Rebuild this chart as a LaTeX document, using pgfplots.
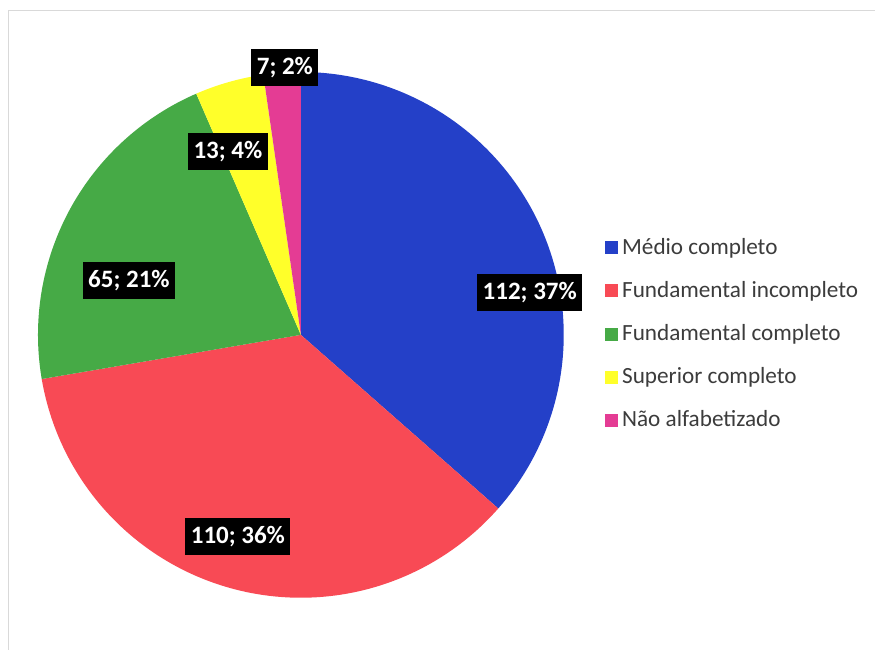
\documentclass[border=0pt]{standalone}
\usepackage{fontspec}
\setmainfont{Carlito}
\usepackage{pgfplots}
\pgfplotsset{compat=1.18}

\definecolor{cMedio}{HTML}{2440C8}
\definecolor{cFundInc}{HTML}{F84A55}
\definecolor{cFundComp}{HTML}{46AA46}
\definecolor{cSup}{HTML}{FFFF2A}
\definecolor{cNao}{HTML}{E43C94}
\definecolor{legtext}{HTML}{3C3C3C}

% pie centre and radius, in pixels of the 875x650 frame
\def\cx{301}
\def\cy{315}
\def\rr{263}
\def\tot{(112+110+65+13+7)}

\tikzset{lbl/.style={fill=black, text=white,
        font=\fontsize{12.5}{15}\selectfont\bfseries,
        inner xsep=2.75pt, inner ysep=3.5pt, text height=9pt, text depth=2.5pt}}

\begin{document}
\begin{tikzpicture}
\begin{axis}[
    scale only axis,
    width=437.5pt, height=325pt,
    xmin=0, xmax=875, ymin=0, ymax=650,
    hide axis,
    clip=false,
    samples=120,
    legend cell align=left,
    legend style={
        at={(axis cs:605,416)}, anchor=north west,
        draw=none, fill=none,
        font=\fontsize{11.6}{14}\selectfont\color{legtext},
        row sep=8pt, inner sep=0pt,
        /tikz/every even column/.append style={column sep=1.5pt},
    },
    legend image code/.code={\fill[#1] (0pt,-3.25pt) rectangle (6.5pt,3.25pt);},
]
% background and frame
\addplot[draw=none, fill=white, forget plot] coordinates {(0,0) (875,0) (875,650) (0,650)};
\addplot[gray!30, forget plot] coordinates {(8,0) (8,640) (875,640)};

% wedges, clockwise from 12 o'clock
\addplot[fill=cMedio, draw=none, domain={0}:{360*(112)/\tot}]
    ({\cx+\rr*sin(x)}, {\cy+\rr*cos(x)}) -- (axis cs:\cx,\cy) -- cycle;
\addlegendentry{Médio completo}
\addplot[fill=cFundInc, draw=none, domain={360*(112)/\tot}:{360*(112+110)/\tot}]
    ({\cx+\rr*sin(x)}, {\cy+\rr*cos(x)}) -- (axis cs:\cx,\cy) -- cycle;
\addlegendentry{Fundamental incompleto}
\addplot[fill=cFundComp, draw=none, domain={360*(112+110)/\tot}:{360*(112+110+65)/\tot}]
    ({\cx+\rr*sin(x)}, {\cy+\rr*cos(x)}) -- (axis cs:\cx,\cy) -- cycle;
\addlegendentry{Fundamental completo}
\addplot[fill=cSup, draw=none, domain={360*(112+110+65)/\tot}:{360*(112+110+65+13)/\tot}]
    ({\cx+\rr*sin(x)}, {\cy+\rr*cos(x)}) -- (axis cs:\cx,\cy) -- cycle;
\addlegendentry{Superior completo}
\addplot[fill=cNao, draw=none, domain={360*(112+110+65+13)/\tot}:{360}]
    ({\cx+\rr*sin(x)}, {\cy+\rr*cos(x)}) -- (axis cs:\cx,\cy) -- cycle;
\addlegendentry{Não alfabetizado}

% data labels
\node[lbl] at (axis cs:530,357) {112; 37\%};
\node[lbl] at (axis cs:238,113) {110; 36\%};
\node[lbl] at (axis cs:129,369) {65; 21\%};
\node[lbl] at (axis cs:228,498) {13; 4\%};
\node[lbl] at (axis cs:285,582) {7; 2\%};
\end{axis}
\end{tikzpicture}
\end{document}
